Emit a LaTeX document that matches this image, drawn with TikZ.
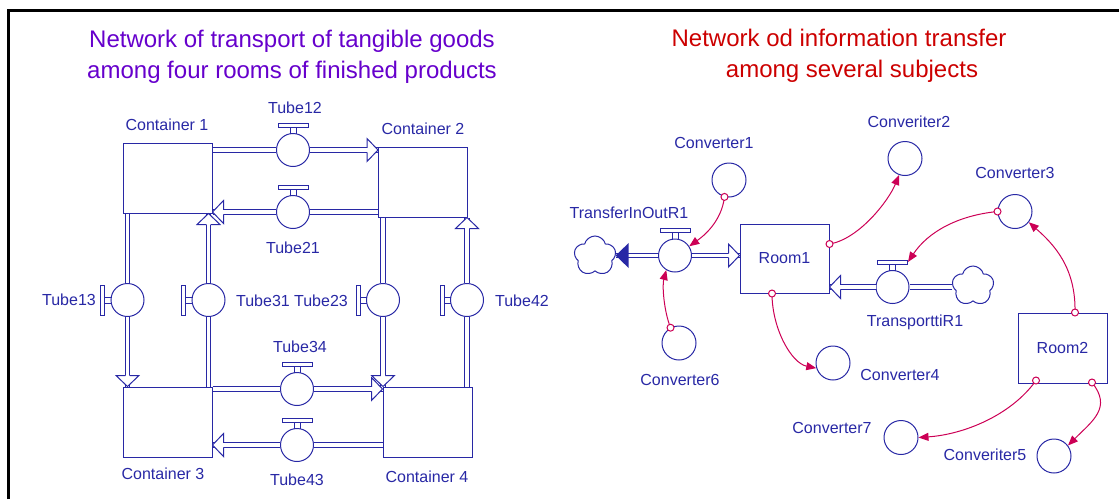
\documentclass[tikz,border=0pt]{standalone}
\usepackage{fontspec}
\setmainfont{Liberation Sans}
\usetikzlibrary{arrows.meta,shapes.symbols,calc}
\definecolor{flowc}{RGB}{40,40,165}
\definecolor{linkc}{RGB}{204,0,85}
\definecolor{titlea}{RGB}{102,0,204}
\definecolor{titleb}{RGB}{204,0,0}
\tikzset{
  hollowhead/.pic={\path[fill=white] (0,0) -- (-11,11.5) -- (-11,-11.5) -- cycle;
    \draw[flowc, line width=1pt] (-11,2.25) -- (-11,11.5) -- (0,0) -- (-11,-11.5) -- (-11,-2.25);},
  solidhead/.pic={\fill[flowc] (0,0) -- (-13,12.5) -- (-13,-12.5) -- cycle;},
  valvehandle/.pic={\draw[flowc, line width=1pt, fill=white] (-15,-23) rectangle (15,-27);
    \draw[flowc, line width=1pt] (-3,-16) -- (-3,-23) (3,-16) -- (3,-23);}
}
\begin{document}
\begin{tikzpicture}[x=1pt,y=-1pt,
  stockbox/.style={draw=flowc, line width=1pt, minimum width=89pt, minimum height=70pt, inner sep=0pt, text=flowc, font=\fontsize{16}{18}\selectfont},
  valve/.style={circle, draw=flowc, fill=white, line width=1pt, minimum size=33pt, inner sep=0pt},
  conv/.style={circle, draw=flowc, fill=white, line width=1pt, minimum size=34pt, inner sep=0pt},
  lbl/.style={font=\fontsize{16}{18}\selectfont, text=flowc, inner sep=0pt},
  pipeline/.style={draw=flowc, line width=1pt, double=white, double distance=3.5pt},
  infolink/.style={draw=linkc, line width=1pt, -{Triangle[length=10pt,width=8pt]}},
  tapdot/.style={circle, draw=linkc, fill=white, line width=1pt, minimum size=7pt, inner sep=0pt},
  sky/.style={cloud, cloud puffs=5, aspect=1, draw=flowc, line width=1pt, minimum width=42pt, minimum height=40pt, inner sep=0pt, fill=white},
  ttl/.style={font=\fontsize{24}{31}\selectfont, align=center, anchor=north, inner sep=0pt}
]
\useasboundingbox (0,0) rectangle (1119,499);
\draw[line width=3pt, black] (8.5,499) -- (8.5,10.5) -- (1119,10.5);

% titles
\node[ttl, text=titlea] (t1) at (292,30) {Network of transport of tangible goods\\among four rooms of finished products};
\node[ttl, text=titleb] (t2) at (839,28.5) {Network od information transfer\\\hspace*{26pt}among several subjects};

% ---------------- left network ----------------
\node[stockbox] (c1) at (167.5,178) {};
\node[stockbox] (c2) at (423,182) {};
\node[stockbox] (c3) at (167.5,422) {};
\node[stockbox] (c4) at (427.5,422) {};
\node[lbl] (lc1) at (167,125) {Container 1};
\node[lbl] (lc2) at (423,129) {Container 2};
\node[lbl] (lc3) at (163,474) {Container 3};
\node[lbl] (lc4) at (427,477) {Container 4};

\node[valve] (v12) at (293,150) {};
\node[valve] (v21) at (293,212) {};
\node[valve] (v34) at (297,389) {};
\node[valve] (v43) at (297,445) {};
\node[valve] (v13) at (127.5,300) {};
\node[valve] (v31) at (208.5,300) {};
\node[valve] (v23) at (383,300) {};
\node[valve] (v42) at (467,300) {};

\node[lbl] (l12) at (295,108) {Tube12};
\node[lbl] (l21) at (293,248) {Tube21};
\node[lbl] (l34) at (300,347) {Tube34};
\node[lbl] (l43) at (297,480) {Tube43};
\node[lbl] (l13) at (69,300) {Tube13};
\node[lbl] (l31) at (263,301) {Tube31};
\node[lbl] (l23) at (321,301) {Tube23};
\node[lbl] (l42) at (522,301) {Tube42};

% pipes
\draw[pipeline] (c1.east |- v12) -- (v12.west) (v12.east) -- (c2.west |- v12);
\draw[pipeline] (c2.west |- v21) -- (v21.east) (v21.west) -- (c1.east |- v21);
\draw[pipeline] (c3.east |- v34) -- (v34.west) (v34.east) -- (c4.west |- v34);
\draw[pipeline] (c4.west |- v43) -- (v43.east) (v43.west) -- (c3.east |- v43);
\draw[pipeline] (c1.south -| v13) -- (v13.north) (v13.south) -- (c3.north -| v13);
\draw[pipeline] (c3.north -| v31) -- (v31.south) (v31.north) -- (c1.south -| v31);
\draw[pipeline] (c2.south -| v23) -- (v23.north) (v23.south) -- (c4.north -| v23);
\draw[pipeline] (c4.north -| v42) -- (v42.south) (v42.north) -- (c2.south -| v42);

\pic at (c2.west |- v12) {hollowhead};
\pic[rotate=180] at (c1.east |- v21) {hollowhead};
\pic at (c4.west |- v34) {hollowhead};
\pic[rotate=180] at (c3.east |- v43) {hollowhead};
\pic[rotate=-90] at (c3.north -| v13) {hollowhead};
\pic[rotate=90] at (c1.south -| v31) {hollowhead};
\pic[rotate=-90] at (c4.north -| v23) {hollowhead};
\pic[rotate=90] at (c2.south -| v42) {hollowhead};

\pic at (v12) {valvehandle};
\pic at (v21) {valvehandle};
\pic at (v34) {valvehandle};
\pic at (v43) {valvehandle};
\pic[rotate=90] at (v13) {valvehandle};
\pic[rotate=90] at (v31) {valvehandle};
\pic[rotate=90] at (v23) {valvehandle};
\pic[rotate=90] at (v42) {valvehandle};

% ---------------- right network ----------------
\node[stockbox, minimum height=69pt] (room1) at (784.5,258.5) {Room1};
\node[stockbox] (room2) at (1062.5,348) {Room2};
\node[valve] (vt) at (675,255.5) {};
\node[valve] (vr) at (892.5,287) {};
\node[sky] (cl1) at (595,256) {};
\node[sky] (cl2) at (973,286) {};
\node[lbl] (lvt) at (629,213) {TransferInOutR1};
\node[lbl] (lvr) at (915,322) {TransporttiR1};

\draw[pipeline] (cl1.east |- vt) -- (vt.west) (vt.east) -- (room1.west |- vt);
\draw[pipeline] (cl2.west |- vr) -- (vr.east) (vr.west) -- (room1.east |- vr);
\pic[rotate=180] at (cl1.east |- vt) {solidhead};
\pic at (room1.west |- vt) {hollowhead};
\pic[rotate=180] at (room1.east |- vr) {hollowhead};
\pic at (vt) {valvehandle};
\pic at (vr) {valvehandle};

\node[conv] (cv1) at (729,180) {};
\node[conv] (cv2) at (905,158.5) {};
\node[conv] (cv3) at (1015,211.5) {};
\node[conv] (cv4) at (833,363) {};
\node[conv] (cv6) at (679,343) {};
\node[conv] (cv7) at (901,437.5) {};
\node[conv] (cv5) at (1054,456) {};
\node[lbl] (lcv1) at (714,143) {Converter1};
\node[lbl] (lcv2) at (909,122) {Converiter2};
\node[lbl] (lcv3) at (1015,173) {Converter3};
\node[lbl] (lcv4) at (900,375) {Converter4};
\node[lbl] (lcv6) at (680,380) {Converter6};
\node[lbl] (lcv7) at (832,428) {Converter7};
\node[lbl] (lcv5) at (985,455) {Converiter5};

\coordinate (r1e) at ([yshift=14.5pt]room1.east);
\coordinate (r1s) at ([xshift=-12.5pt]room1.south);
\coordinate (r2n) at ([xshift=12.5pt]room2.north);
\coordinate (r2s) at ([xshift=-26.5pt,yshift=3pt]room2.south);
\coordinate (r2se) at ([xshift=29.5pt,yshift=1pt]room2.south);
\coordinate (vrh) at ([xshift=15.5pt,yshift=25pt]vr.center);

\draw[infolink] (cv1.255) .. controls +(-3,25) and +(14,-10) .. (vt.33);
\draw[infolink] (r1e) .. controls +(30,-5) and +(-10,25) .. (cv2.250);
\draw[infolink] (cv3.180) .. controls +(-40,4) and +(20,-30) .. (vrh);
\draw[infolink] (r2n) .. controls +(1,-45) and +(25,22) .. (cv3.322);
\draw[infolink] (r1s) .. controls +(0,35) and +(-25,-5) .. (cv4.197);
\draw[infolink] (cv6.119) .. controls +(-7,-18) and +(-4,15) .. (vt.239);
\draw[infolink] (r2s) .. controls +(-25,35) and +(45,-3) .. (cv7.east);
\draw[infolink] (r2se) .. controls +(20,25) and +(25,-25) .. (cv5.37);

\node[tapdot] (d1) at (cv1.255) {};
\node[tapdot] (d2) at (r1e) {};
\node[tapdot] (d3) at (cv3.180) {};
\node[tapdot] (d4) at (r2n) {};
\node[tapdot] (d5) at (r1s) {};
\node[tapdot] (d6) at (cv6.119) {};
\node[tapdot] (d7) at (r2s) {};
\node[tapdot] (d8) at (r2se) {};
\end{tikzpicture}
\end{document}
